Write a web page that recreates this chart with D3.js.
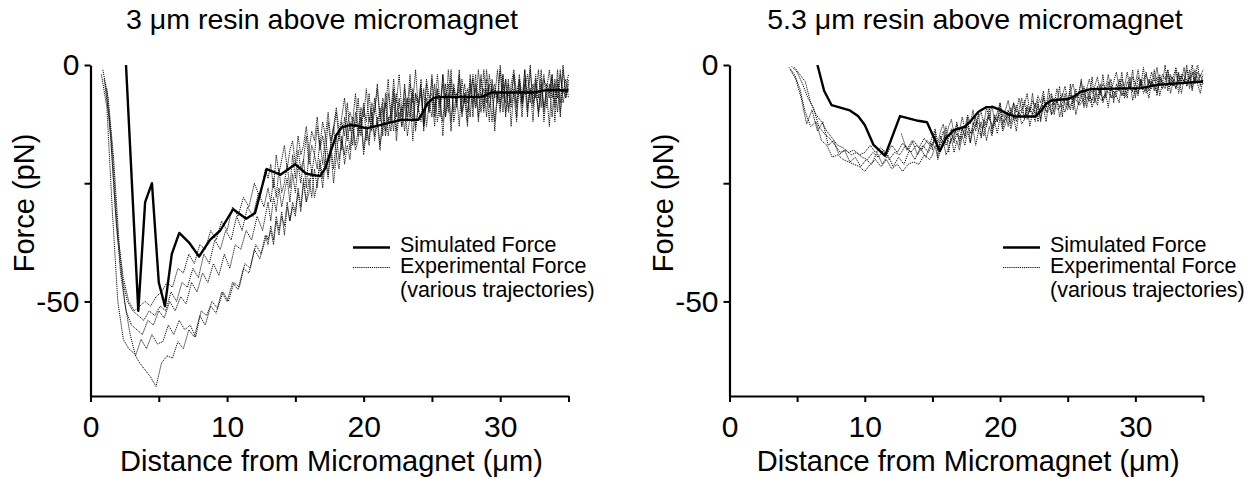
<!DOCTYPE html>
<html><head><meta charset="utf-8">
<script src="https://cdn.jsdelivr.net/npm/d3@7"></script>
<style>
body{margin:0;background:#fff}
svg{display:block}
text{font-family:"Liberation Sans",Arial,Helvetica,sans-serif;fill:#000}
</style></head>
<body><svg id="c" width="1256" height="479"></svg>
<script>
// ---------- data ----------
const titles = ["3 \u03bcm resin above micromagnet", "5.3 \u03bcm resin above micromagnet"];
const xLabel = "Distance from Micromagnet (\u03bcm)";
const yLabel = "Force (pN)";
const xTickValues = [0, 5, 10, 15, 20, 25, 30, 35];
const xTickLabels = ["0", "", "10", "", "20", "", "30", ""];
const yTickValues = [0, -25, -50];
const yTickLabels = ["0", "", "-50"];
const legendLabels = ["Simulated Force", "Experimental Force", "(various trajectories)"];

// Left panel: simulated force (3 um resin)
const simXLeft = [2.6, 3.5, 4.0, 4.5, 5.0, 5.45, 5.95, 6.5, 7.2, 7.95, 8.75, 9.5, 10.45, 11.4, 12.05, 12.9, 13.9, 15.0, 15.8, 16.8, 17.2, 17.6, 18.0, 18.4, 19.0, 19.6, 20.2, 21.2, 22.7, 24.0, 24.3, 24.7, 25.1, 25.6, 28.7, 29.4, 32.4, 33.4, 35.0];
const simYLeft = [0, -52, -29, -25, -46, -51, -40, -35.5, -37.5, -40.5, -37, -35, -30.5, -32.5, -31.3, -22, -23.2, -21, -23, -23.5, -21.8, -18.2, -14.8, -13.2, -12.7, -12.9, -13.4, -12.7, -11.6, -11.6, -10.2, -8.0, -7.0, -6.8, -6.7, -5.8, -5.8, -5.3, -5.4];

// Left panel: experimental trajectories
// near part: sampled every 0.4 um from each start (used below 13 um)
const expStartLeft = [0.8, 0.9, 1.0, 1.1, 1.2];
const expStepLeft = 0.4;
const expLeft1 = [-2,-9,-31,-50,-58,-60,-61,-63,-64.5,-66,-68,-63,-61.5,-62,-58.5,-60,-56,-57.5,-53,-55,-51,-52.5,-48,-50,-46,-47.5,-43,-44,-39,-41,-36];
const expLeft2 = [-1,-7,-20,-38,-50,-57,-61.5,-58,-60,-57,-59,-58.5,-55,-57,-54,-56,-55,-57.5,-52,-53,-50,-51.5,-48,-50,-46,-47,-42,-43,-38,-40,-36];
const expLeft3 = [-3,-12,-30,-44,-52,-55,-56,-57,-54,-55,-52,-53.5,-50,-52,-49,-50.5,-46,-48,-44,-46,-42,-44.5,-40,-43,-38,-39,-35,-37,-32,-35];
const expLeft4 = [-4,-16,-34,-45,-50,-52,-53,-54,-52,-53,-51,-52,-48,-50,-46,-47,-43,-45,-40,-42,-37,-39,-35,-37,-32,-35,-30,-32,-27,-30];
const expLeft5 = [-5,-18,-36,-45,-50,-52,-51,-50,-51,-49,-48,-46,-47,-43,-44,-40,-42,-38,-39,-35,-37,-33,-35,-30,-32,-28,-30,-25,-28,-22];
// far part: sampled every 0.2 um from 13 um to 35 um
const farStartLeft = 13.0;
const farStepLeft = 0.2;
const expFarLeft1 = [-38,-34,-37,-32,-35,-31,-36,-30,-33,-29, -31,-26,-30,-24,-29,-27,-22,-28,-25,-21, -26,-20,-24,-18,-25,-19,-22,-15,-21,-17, -20,-13,-18,-16,-11,-19,-14,-17,-10,-16, -12,-18,-9,-15,-11,-14,-7,-16,-10,-13, -8,-15,-11,-6,-14,-9,-12,-5,-13,-8, -11,-4,-12,-7,-15,-6,-10,-3,-12,-8, -5,-11,-7,-13,-4,-9,-2,-12,-6,-10, -3,-9,-5,-14,-6,-8,-2,-11,-4,-9, -6,-12,-3,-8,-1,-10,-5,-7,-2,-11, -4,-9,-6,-13,-3,-8,-1,-10,-5,-7, -4];
const expFarLeft2 = [-37,-35,-38,-33,-36,-32,-34,-29,-33,-30, -32,-27,-31,-25,-29,-24,-28,-22,-26,-20, -24,-19,-23,-17,-22,-15,-20,-16,-19,-13, -18,-12,-17,-14,-10,-18,-13,-16,-9,-15, -11,-17,-13,-8,-15,-10,-14,-6,-12,-9, -14,-7,-11,-5,-13,-9,-6,-12,-4,-10, -7,-13,-5,-9,-2,-11,-6,-14,-4,-8, -3,-10,-6,-12,-2,-8,-5,-11,-3,-9, -1,-7,-4,-12,-6,-10,-2,-8,-3,-13, -5,-9,-2,-7,-4,-11,-1,-8,-6,-10, -3,-12,-5,-7,-2,-9,-4,-11,-1,-6, -5];
const expFarLeft3 = [-29,-33,-28,-31,-26,-30,-27,-24,-29,-23, -27,-21,-25,-20,-26,-18,-23,-19,-22,-16, -21,-15,-20,-17,-13,-19,-14,-18,-11,-16, -12,-17,-10,-15,-13,-8,-16,-11,-14,-7, -13,-9,-15,-6,-12,-10,-5,-14,-8,-11, -4,-12,-7,-16,-6,-10,-3,-13,-8,-9, -2,-11,-5,-8,-12,-4,-9,-1,-10,-6, -13,-3,-8,-5,-11,-2,-9,-6,-10,-1, -8,-4,-12,-5,-7,-1,-10,-3,-9,-6, -2,-11,-4,-8,-1,-9,-5,-12,-3,-7, -1,-10,-4,-6,-2,-12,-3,-8,0,-7, -3];
const expFarLeft4 = [-26,-29,-24,-28,-22,-27,-25,-21,-26,-19, -24,-18,-22,-20,-15,-21,-17,-19,-13,-18, -15,-19,-12,-17,-14,-10,-16,-12,-15,-8, -14,-11,-13,-7,-15,-9,-12,-6,-13,-10, -5,-12,-8,-14,-6,-10,-3,-11,-7,-13, -5,-9,-2,-12,-6,-8,-4,-14,-7,-10, -3,-9,-6,-11,-2,-7,-4,-12,-5,-8, -1,-10,-6,-8,-3,-11,-4,-7,-2,-9, -5,-12,-3,-7,-1,-9,-4,-10,-6,-8, -2,-8,-5,-11,-3,-6,0,-9,-4,-10, -6,-2,-9,-4,-11,-3,-7,-1,-8,-5, -2];
const expFarLeft5 = [-24,-21,-26,-19,-23,-20,-17,-22,-18,-16, -21,-15,-19,-17,-13,-18,-14,-16,-11,-17, -12,-15,-10,-16,-13,-9,-14,-11,-7,-13, -10,-12,-6,-14,-9,-11,-5,-12,-8,-10, -4,-11,-7,-9,-3,-12,-6,-8,-2,-10, -7,-11,-4,-8,-1,-9,-5,-13,-3,-7, -6,-10,-2,-8,-4,-11,-1,-7,-5,-9, -2,-8,-4,-10,-6,-3,-9,-1,-7,-5, -11,-2,-6,-4,-8,0,-7,-3,-10,-4, -1,-6,-3,-9,-5,-2,-8,-4,-7,-1, -9,-3,-5,-1,-7,-4,-10,-2,-6,-3, -7];

// Right panel: simulated force (5.3 um resin)
const simXRight = [6.5, 7.0, 7.55, 8.9, 9.5, 10.0, 10.65, 11.5, 12.6, 13.95, 14.6, 15.55, 16.0, 16.55, 17.4, 17.9, 18.4, 19.0, 19.5, 20.0, 20.6, 21.2, 22.6, 23.0, 23.4, 23.8, 25.0, 25.5, 26.0, 26.7, 30.4, 31.6, 35.0];
const simYRight = [0, -5.5, -8.5, -9.6, -10.8, -12.7, -16.9, -19.2, -10.8, -11.8, -12.1, -18.2, -15.5, -13.8, -13.1, -11.6, -9.9, -8.9, -8.9, -9.5, -10.4, -10.9, -10.9, -9.8, -8.2, -7.5, -7.2, -6.6, -5.6, -5.1, -4.9, -4.2, -3.5];

// Right panel: experimental trajectories
// near part: sampled every 0.4 um from each start (used below 15 um)
const expStartRight = [4.4, 4.6, 4.8, 4.5];
const expStepRight = 0.4;
const expRight1 = [-0.5,-2,-5,-10,-13,-12,-16,-17,-19.5,-19,-20,-20.5,-21,-21.5,-22.5,-21,-20,-21.5,-20,-22,-21,-22.5,-21,-20.5,-21,-19,-20];
const expRight2 = [-0.3,-1.5,-4,-7,-9,-13,-14.5,-15.5,-17,-18.5,-18,-19,-18.5,-19.5,-20,-18.5,-19.5,-18,-20,-18.5,-19,-17,-18.5,-17,-18,-16];
const expRight3 = [-0.5,-2,-3.5,-8,-10.5,-12,-14,-15.5,-17,-17.5,-18.5,-18,-19,-18.5,-17,-18.5,-17.5,-19,-17,-18.5,-16.5,-18,-16,-17.5,-15.5,-17];
const expRight4 = [-1,-3,-7,-12.5,-9.5,-14,-12,-17,-16,-19,-18,-20.5,-19.5,-21.5,-20,-21,-18.5,-21,-19,-21.5,-19.5,-21,-18,-20,-17.5,-19.5,-16.5];
// far part: sampled every 0.2 um from 15 um to 35 um
const farStartRight = 15.0;
const farStepRight = 0.2;
const expFarRight1 = [-19,-17,-20,-18,-16,-19,-17.5,-15.5,-18.5,-16, -18,-15,-17,-14,-16.5,-13.5,-17,-14,-15,-12.5, -16,-13,-15,-12,-14.5,-11,-14,-12.5,-10.5,-13.5, -11,-14,-10,-12.5,-11.5,-9,-13,-10,-12,-8.5, -11.5,-9,-12,-8,-10.5,-9.5,-7,-11,-8.5,-10, -7.5,-9.5,-6.5,-10.5,-8,-6,-9,-7.5,-5.5,-9, -7,-8.5,-5,-7.5,-6,-9,-4.5,-7,-6.5,-8, -4,-7,-5.5,-3.5,-7.5,-5,-6.5,-3,-6,-4.5, -7,-3.5,-5.5,-2.5,-6.5,-4,-5,-2,-6,-3.5, -5,-1.5,-6,-3,-4.5,-1,-5.5,-2.5,-4,-6, -3];
const expFarRight2 = [-17,-15,-18,-16,-14,-17,-15.5,-13.5,-16.5,-14.5, -16,-13,-15.5,-12,-14.5,-13,-11,-14,-12,-15, -12.5,-10.5,-13.5,-11,-12,-9.5,-12.5,-10,-13,-9, -11.5,-8.5,-11,-10,-7.5,-11.5,-9,-10.5,-8,-12, -9,-7,-10,-8.5,-6.5,-10.5,-7.5,-9,-6,-8.5, -9.5,-6,-8,-5,-8.5,-7,-4.5,-9,-6.5,-7.5, -5,-7.5,-4,-8,-6,-3.5,-7,-5.5,-6.5,-3, -6.5,-4.5,-7,-2.5,-5.5,-4,-6,-3,-5,-1.5, -5.5,-3,-4.5,-6,-2,-5,-3.5,-1,-4.5,-3, -5,-2,-3.5,-0.5,-4.5,-2.5,-5,-1,-3.5,-2, -4];
const expFarRight3 = [-15,-13.5,-16.5,-14,-12.5,-15.5,-13,-11.5,-14.5,-12.5, -14,-11,-13.5,-10.5,-12.5,-9.5,-13,-11,-10,-12.5, -9,-11.5,-8.5,-12,-10,-8,-11,-9.5,-7.5,-10.5, -8,-10,-7,-9.5,-8.5,-6,-10,-7.5,-9,-6.5, -8,-5.5,-9,-7,-6,-8.5,-5,-7.5,-6.5,-4.5, -7.5,-5.5,-4,-7,-6,-3.5,-6.5,-5,-3,-6, -4.5,-2.5,-6,-4,-5,-2,-5.5,-3.5,-1.5,-5, -3,-4.5,-1.5,-5,-2.5,-4,-1,-4.5,-3,-2, -4,-1.5,-3.5,-0.5,-4.5,-2,-3,-1,-4,-2.5, -0.5,-3.5,-2,-4,-1,-3,0,-3.5,-1.5,-2.5, -1];
const expFarRight4 = [-18,-14,-19.5,-15,-17,-13,-18.5,-14.5,-16,-12, -17,-13.5,-15,-11,-16.5,-12,-14,-10,-15.5,-11.5, -13,-9,-14.5,-10.5,-12,-8,-13.5,-11,-9.5,-12.5, -8,-12,-9.5,-7,-11.5,-8.5,-10,-6,-11,-7.5, -12,-6.5,-9,-5,-10.5,-7,-8,-4.5,-11,-6, -8.5,-4,-9.5,-6,-7,-3,-8.5,-5,-7.5,-2.5, -8,-4.5,-6.5,-2,-7,-5,-3,-8,-4,-5.5, -1.5,-6.5,-3.5,-5,-1,-7,-2.5,-4.5,-0.5,-6, -3,-5,-1,-6.5,-2.5,-4,0,-5.5,-2,-4.5, -1,-6,-2.5,-3.5,0,-5,-1.5,-4,0.5,-4.5, -2];
// short trajectory starting mid-plot (every 0.4 um from 12.7 um)
const expStartRight5 = 12.7;
const expRight5 = [-14.5,-18,-16,-19,-17,-18.5,-16,-17.5,-15,-16.5,-14,-15.5,-13,-14.5,-12,-13.5,-11,-13,-10.5,-12,-10,-11.5,-9.5,-11,-9,-10.5,-8.5,-10,-8,-9.5,-7.5,-9,-7,-8.5,-6.5,-8,-6,-7.5,-5.5,-7,-5,-6.5,-4.5,-6,-4,-5.5,-3.5,-5,-3,-4.5,-2.5,-4,-2,-3.5,-1.5,-3];

// ---------- assemble point lists ----------
function nearPts(vals, start, step, limit) {
  return vals.map((v, i) => [start + i * step, v]).filter(d => d[0] < limit);
}
function farPts(vals, start, step) {
  return vals.map((v, i) => [start + i * step, v]);
}
const leftNear = [expLeft1, expLeft2, expLeft3, expLeft4, expLeft5];
const leftFar = [expFarLeft1, expFarLeft2, expFarLeft3, expFarLeft4, expFarLeft5];
const leftTraces = leftNear.map((v, k) =>
  nearPts(v, expStartLeft[k], expStepLeft, farStartLeft).concat(farPts(leftFar[k], farStartLeft, farStepLeft)));
const rightNear = [expRight1, expRight2, expRight3, expRight4];
const rightFar = [expFarRight1, expFarRight2, expFarRight3, expFarRight4];
const rightTraces = rightNear.map((v, k) =>
  nearPts(v, expStartRight[k], expStepRight, farStartRight).concat(farPts(rightFar[k], farStartRight, farStepRight)));
rightTraces.push(nearPts(expRight5, expStartRight5, expStepRight, 35.05));

// ---------- layout ----------
const svg = d3.select("#c");
const yTop = 65, yBottom = 396;
const panels = [
  {x0: 90.5, x1: 568.5, title: titles[0], titleX: 322, legX: 353, simX: simXLeft, simY: simYLeft, traces: leftTraces},
  {x0: 729.5, x1: 1203, title: titles[1], titleX: 975, legX: 1003, simX: simXRight, simY: simYRight, traces: rightTraces}
];

panels.forEach((p, pi) => {
  const x = d3.scaleLinear().domain([0, 35]).range([p.x0, p.x1]);
  const y = d3.scaleLinear().domain([-70, 0]).range([yBottom, yTop]);
  const g = svg.append("g");

  const cid = "clip" + pi;
  svg.append("defs").append("clipPath").attr("id", cid)
    .append("rect").attr("x", p.x0 + 1).attr("y", yTop).attr("width", p.x1 - p.x0 + 2).attr("height", yBottom - yTop);

  const line = d3.line().x(d => x(d[0])).y(d => y(d[1]));

  // experimental traces
  const eg = g.append("g").attr("clip-path", `url(#${cid})`);
  p.traces.forEach(pts => {
    eg.append("path").attr("d", line(pts)).attr("fill", "none")
      .attr("stroke", "#111").attr("stroke-width", 1).attr("stroke-dasharray", "1.2,0.9");
  });

  // simulated
  eg.append("path").attr("d", line(p.simX.map((v, i) => [v, p.simY[i]])))
    .attr("fill", "none").attr("stroke", "#000").attr("stroke-width", 2.4).attr("stroke-linejoin", "round");

  // axes
  const xa = g.append("g").attr("transform", `translate(0,${yBottom})`)
    .call(d3.axisBottom(x).tickValues(xTickValues).tickFormat((d, i) => xTickLabels[i]).tickSize(6).tickSizeOuter(0).tickPadding(14));
  const ya = g.append("g").attr("transform", `translate(${p.x0},0)`)
    .call(d3.axisLeft(y).tickValues(yTickValues).tickFormat((d, i) => yTickLabels[i]).tickSize(6).tickSizeOuter(0).tickPadding(5));
  [xa, ya].forEach(a => {
    a.selectAll("path.domain").attr("stroke", "#000").attr("stroke-width", 2.2);
    a.selectAll(".tick line").attr("stroke", "#000").attr("stroke-width", 2);
    a.selectAll("text").attr("font-size", 30).attr("font-family", '"Liberation Sans",Arial,sans-serif').attr("fill", "#000");
  });

  // titles and axis labels
  g.append("text").attr("x", p.titleX).attr("y", 29).attr("text-anchor", "middle").attr("font-size", 28.5).text(p.title);
  g.append("text").attr("x", (p.x0 + p.x1) / 2 + 2).attr("y", 471).attr("text-anchor", "middle").attr("font-size", 29).text(xLabel);
  g.append("text").attr("transform", `translate(${p.x0 - 57},203) rotate(-90)`)
    .attr("text-anchor", "middle").attr("font-size", 29).text(yLabel);

  // legend
  const lg = g.append("g");
  lg.append("line").attr("x1", p.legX).attr("x2", p.legX + 37).attr("y1", 247.5).attr("y2", 247.5)
    .attr("stroke", "#000").attr("stroke-width", 2.4);
  lg.append("line").attr("x1", p.legX).attr("x2", p.legX + 37).attr("y1", 267.5).attr("y2", 267.5)
    .attr("stroke", "#111").attr("stroke-width", 1).attr("stroke-dasharray", "1.2,0.9");
  const tx = p.legX + 47;
  [251.5, 273, 297].forEach((yy, i) => {
    lg.append("text").attr("x", tx).attr("y", yy).attr("font-size", 21.5).text(legendLabels[i]);
  });
});
</script>
</body></html>
